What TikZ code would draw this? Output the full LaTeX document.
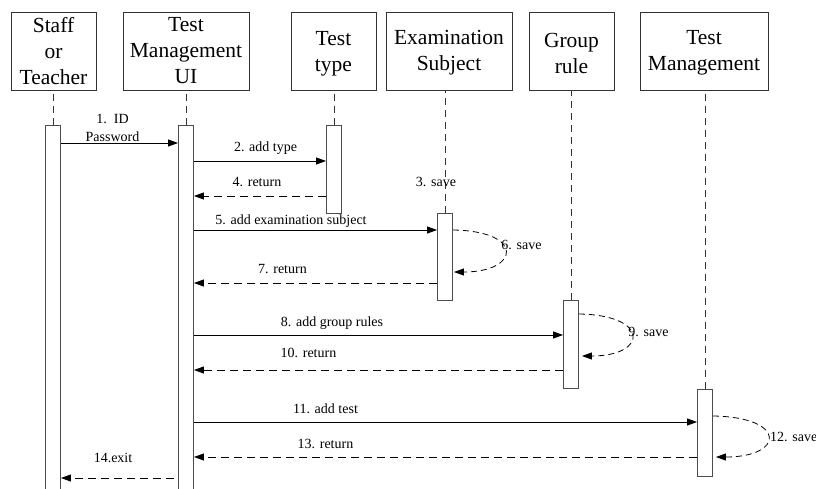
\documentclass[tikz,border=0pt]{standalone}
\usepackage{fontspec}
\setmainfont{Liberation Serif}
\usetikzlibrary{arrows.meta}
\begin{document}
\begin{tikzpicture}[x=1pt,y=-1pt,
  head/.style={draw=black!80, line width=0.9pt, minimum height=78pt, inner sep=0pt, align=center, font=\fontsize{21.5}{26}\selectfont},
  htext/.style={inner sep=0pt, align=center, font=\fontsize{21.5}{26}\selectfont},
  bar/.style={draw=black!70, fill=white, line width=0.9pt, minimum width=15pt, inner sep=0pt},
  life/.style={draw=black!80, line width=0.9pt, dash pattern=on 7pt off 5pt},
  msg/.style={draw=black, line width=0.8pt, -{Triangle[length=10pt,width=7pt]}},
  ret/.style={msg, dash pattern=on 8pt off 5pt},
  loopret/.style={msg, dash pattern=on 6pt off 4pt},
  lbl/.style={font=\fontsize{14}{17}\selectfont, inner sep=0pt, anchor=base},
]
\useasboundingbox (0,0) rectangle (816,488);
\clip (0,0) rectangle (816,488);

% header boxes
\node[head, minimum width=85pt]  (hs) at (53.5,51) {Staff\\or\\Teacher};
\node[head, minimum width=126pt] (hu) at (186,51)  {Test\\Management\\UI};
\node[head, minimum width=85pt]  (ht) at (333.5,51) {};
\node[head, minimum width=126pt] (he) at (449,51)  {};
\node[head, minimum width=85pt]  (hg) at (571.5,51) {};
\node[head, minimum width=128pt] (hm) at (704,51)  {};
\node[htext] (tt) at ([yshift=-3pt]ht.center) {Test\\type};
\node[htext] (te) at ([yshift=-2pt]he.center) {Examination\\Subject};
\node[htext] (tg) at ([yshift=-2pt]hg.center) {Group\\rule};
\node[htext] (tm) at ([yshift=-2pt]hm.center) {Test\\Management};

% activation bars
\node[bar, minimum height=370pt] (sbar) at (53,310) {};
\node[bar, minimum height=370pt] (ubar) at (186,310) {};
\node[bar, minimum height=88pt]  (tbar) at (334,169) {};
\node[bar, minimum height=87pt]  (ebar) at (445,256.5) {};
\node[bar, minimum height=88pt]  (gbar) at (571,344) {};
\node[bar, minimum height=87pt]  (mbar) at (705,432.5) {};

% lifelines
\draw[life] (sbar.north) -- (sbar.north |- hs.south);
\draw[life] (ubar.north) -- (ubar.north |- hu.south);
\draw[life] (tbar.north) -- (tbar.north |- ht.south);
\draw[life] (ebar.north) -- (ebar.north |- he.south);
\draw[life] (gbar.north) -- (gbar.north |- hg.south);
\draw[life] (mbar.north) -- (mbar.north |- hm.south);

% messages
\draw[msg] (sbar.east |- 0,143) -- (ubar.west |- 0,143);
\node[lbl] (l1a) at (112.5,123) {1.~~ID};
\node[lbl] (l1b) at (112.5,141) {Password};

\draw[msg] (ubar.east |- 0,161) -- (tbar.west |- 0,161);
\node[lbl] (l2) at (265.5,151) {2. add type};

\node[lbl] (l3) at (436,186) {3. save};

\draw[ret] (tbar.west |- 0,196) -- (ubar.east |- 0,196);
\node[lbl] (l4) at (257,186) {4. return};

\draw[msg] (ubar.east |- 0,230) -- (ebar.west |- 0,230);
\node[lbl] (l5) at (291,224) {5. add examination subject};

\draw[loopret] (ebar.east |- 0,230) .. controls (525,231) and (520,272) .. ([xshift=1pt]ebar.east |- 0,272);
\node[lbl] (l6) at (521.5,249) {6. save};

\draw[ret] (ebar.west |- 0,283) -- (ubar.east |- 0,283);
\node[lbl] (l7) at (282.5,273) {7. return};

\draw[msg] (ubar.east |- 0,335) -- (gbar.west |- 0,335);
\node[lbl] (l8) at (332,326) {8. add group rules};

\draw[loopret] (gbar.east |- 0,314) .. controls (650,315) and (648,356) .. ([xshift=3pt]gbar.east |- 0,356);
\node[lbl] (l9) at (648.5,336) {9. save};

\draw[ret] (gbar.west |- 0,370) -- (ubar.east |- 0,370);
\node[lbl] (l10) at (308.5,357) {10. return};

\draw[msg] (ubar.east |- 0,422) -- (mbar.west |- 0,422);
\node[lbl] (l11) at (325.5,413) {11. add test};

\draw[loopret] (mbar.east |- 0,416) .. controls (787,417) and (785,457) .. ([xshift=3pt]mbar.east |- 0,457);
\node[lbl, anchor=base west] (l12) at (770,441) {12. save};

\draw[ret] (mbar.west |- 0,457) -- (ubar.east |- 0,457);
\node[lbl] (l13) at (325.5,448) {13. return};

\coordinate (ex) at (174,478);
\draw[ret] (ex) -- (sbar.east |- ex);
\node[lbl] (l14) at (113,462) {14.exit};
\end{tikzpicture}
\end{document}
